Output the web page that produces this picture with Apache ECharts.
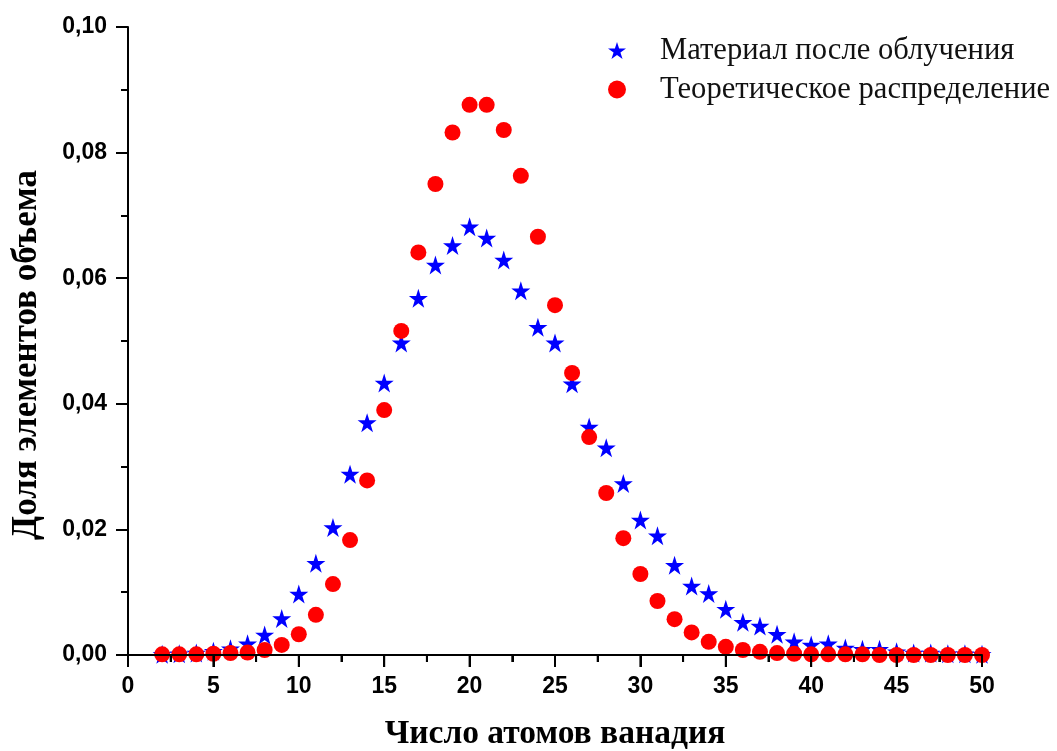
<!DOCTYPE html>
<html>
<head>
<meta charset="utf-8">
<script src="https://cdn.jsdelivr.net/npm/echarts@6/dist/echarts.min.js"></script>
<style>
html,body{margin:0;padding:0;background:#fff;}
#chart{width:1057px;height:751px;}
</style>
</head>
<body>
<div id="chart"></div>
<script>
// Data
const atoms = [2,3,4,5,6,7,8,9,10,11,12,13,14,15,16,17,18,19,20,21,22,23,24,25,26,27,28,29,30,31,32,33,34,35,36,37,38,39,40,41,42,43,44,45,46,47,48,49,50];
const irradiated = [0.0001,0.0002,0.0003,0.0006,0.0010,0.0018,0.0032,0.0058,0.0097,0.0146,0.0203,0.0288,0.0370,0.0433,0.0497,0.0568,0.0621,0.0652,0.0682,0.0664,0.0629,0.0580,0.0522,0.0497,0.0432,0.0363,0.0330,0.0273,0.0215,0.0190,0.0143,0.0110,0.0098,0.0073,0.0052,0.0046,0.0033,0.0021,0.0016,0.0018,0.0011,0.0009,0.0009,0.0005,0.0003,0.0003,0.0002,0.0002,0.0001];
const theoretical = [0.0001,0.0001,0.0001,0.0002,0.0003,0.0004,0.0008,0.0016,0.0033,0.0064,0.0113,0.0183,0.0278,0.0390,0.0516,0.0641,0.0750,0.0832,0.0876,0.0876,0.0836,0.0763,0.0666,0.0557,0.0449,0.0347,0.0258,0.0186,0.0129,0.0086,0.0057,0.0036,0.0021,0.0013,0.0008,0.0005,0.0003,0.0002,0.0001,0.0001,0.0001,0.0001,0,0,0,0,0,0,0];
const xMajorTicks = [0,5,10,15,20,25,30,35,40,45,50];
const xMinorTicks = [2.5,7.5,12.5,17.5,22.5,27.5,32.5,37.5,42.5,47.5];
const seriesNames = ['Материал после облучения', 'Теоретическое распределение'];
const xTitle = 'Число атомов ванадия';
const yTitle = 'Доля элементов объема';

const pairs = (xs, ys) => xs.map((x, i) => [x, ys[i]]);
const STAR = 'path://M50,0 L61.8,36.2 L100,36.2 L69.1,58.6 L80.9,95.1 L50,72.7 L19.1,95.1 L30.9,58.6 L0,36.2 L38.2,36.2 Z';

const chart = echarts.init(document.getElementById('chart'), null, {renderer: 'canvas'});
const axisStyle = () => ({
  axisLine: {show: true, onZero: false, lineStyle: {color: '#000', width: 2}},
  axisTick: {show: true, inside: false, length: 12, lineStyle: {color: '#000', width: 2}},
  minorTick: {show: true, splitNumber: 2, length: 7, lineStyle: {color: '#000', width: 2}},
  splitLine: {show: false},
  minorSplitLine: {show: false}
});
const labelFont = () => ({color: '#000', fontFamily: 'Liberation Sans', fontWeight: 'bold', fontSize: 23});

// x-axis tick marks drawn through the chart's own x scale
const tickData = xMajorTicks.map(v => [v, 0, 1]).concat(xMinorTicks.map(v => [v, 0, 0]));

chart.setOption({
  animation: false,
  backgroundColor: '#fff',
  grid: {left: 128, right: 75, top: 27, bottom: 96, containLabel: false},
  xAxis: Object.assign({
    type: 'value', min: 0, max: 50, interval: 5,
    axisLabel: Object.assign({margin: 20}, labelFont())
  }, axisStyle()),
  yAxis: Object.assign({
    type: 'value', min: 0, max: 0.1, interval: 0.02,
    axisLabel: Object.assign({margin: 21, formatter: v => v.toFixed(2).replace('.', ',')}, labelFont())
  }, axisStyle()),
  legend: {
    orient: 'vertical', left: 608, top: 35, padding: 0,
    itemWidth: 18, itemHeight: 18, itemGap: 8,
    textStyle: {fontFamily: 'Liberation Serif', fontSize: 30.6, color: '#111', lineHeight: 30, padding: [0, 0, 0, 29]},
    data: [
      {name: seriesNames[0], icon: STAR},
      {name: seriesNames[1], icon: 'circle'}
    ]
  },
  series: [
    {name: seriesNames[0], type: 'scatter', symbol: STAR, zlevel: -2,
     symbolSize: 19, itemStyle: {color: '#0000ff', opacity: 1}, data: pairs(atoms, irradiated), z: 2},
    {name: seriesNames[1], type: 'scatter', symbol: 'circle', symbolSize: 16, zlevel: -2,
     itemStyle: {color: '#ff0000', opacity: 1}, data: pairs(atoms, theoretical), z: 3},
    {name: 'xticks', type: 'custom', silent: true, clip: false, z: 10,
     encode: {x: 0, y: 1}, data: tickData,
     renderItem: (params, api) => {
       const p = api.coord([api.value(0), 0]);
       const len = api.value(2) ? 12 : 7;
       return {type: 'line', shape: {x1: p[0], y1: p[1], x2: p[0], y2: p[1] + len},
               style: {stroke: '#000', lineWidth: 2}};
     }}
  ]
});

// Axis titles, placed from the chart's own scales
const p00 = chart.convertToPixel({gridIndex: 0}, [0, 0]);
const pEnd = chart.convertToPixel({gridIndex: 0}, [50, 0.1]);
chart.setOption({
  graphic: [
    {type: 'text', x: (p00[0] + pEnd[0]) / 2, y: 734, style: {text: xTitle, textAlign: 'center', textVerticalAlign: 'middle',
      font: 'bold 33.5px "Liberation Serif"', fill: '#000'}},
    {type: 'text', x: 27, y: 355, rotation: Math.PI / 2, style: {text: yTitle, textAlign: 'center', textVerticalAlign: 'middle',
      font: 'bold 35px "Liberation Serif"', fill: '#000'}}
  ]
});
</script>
</body>
</html>
